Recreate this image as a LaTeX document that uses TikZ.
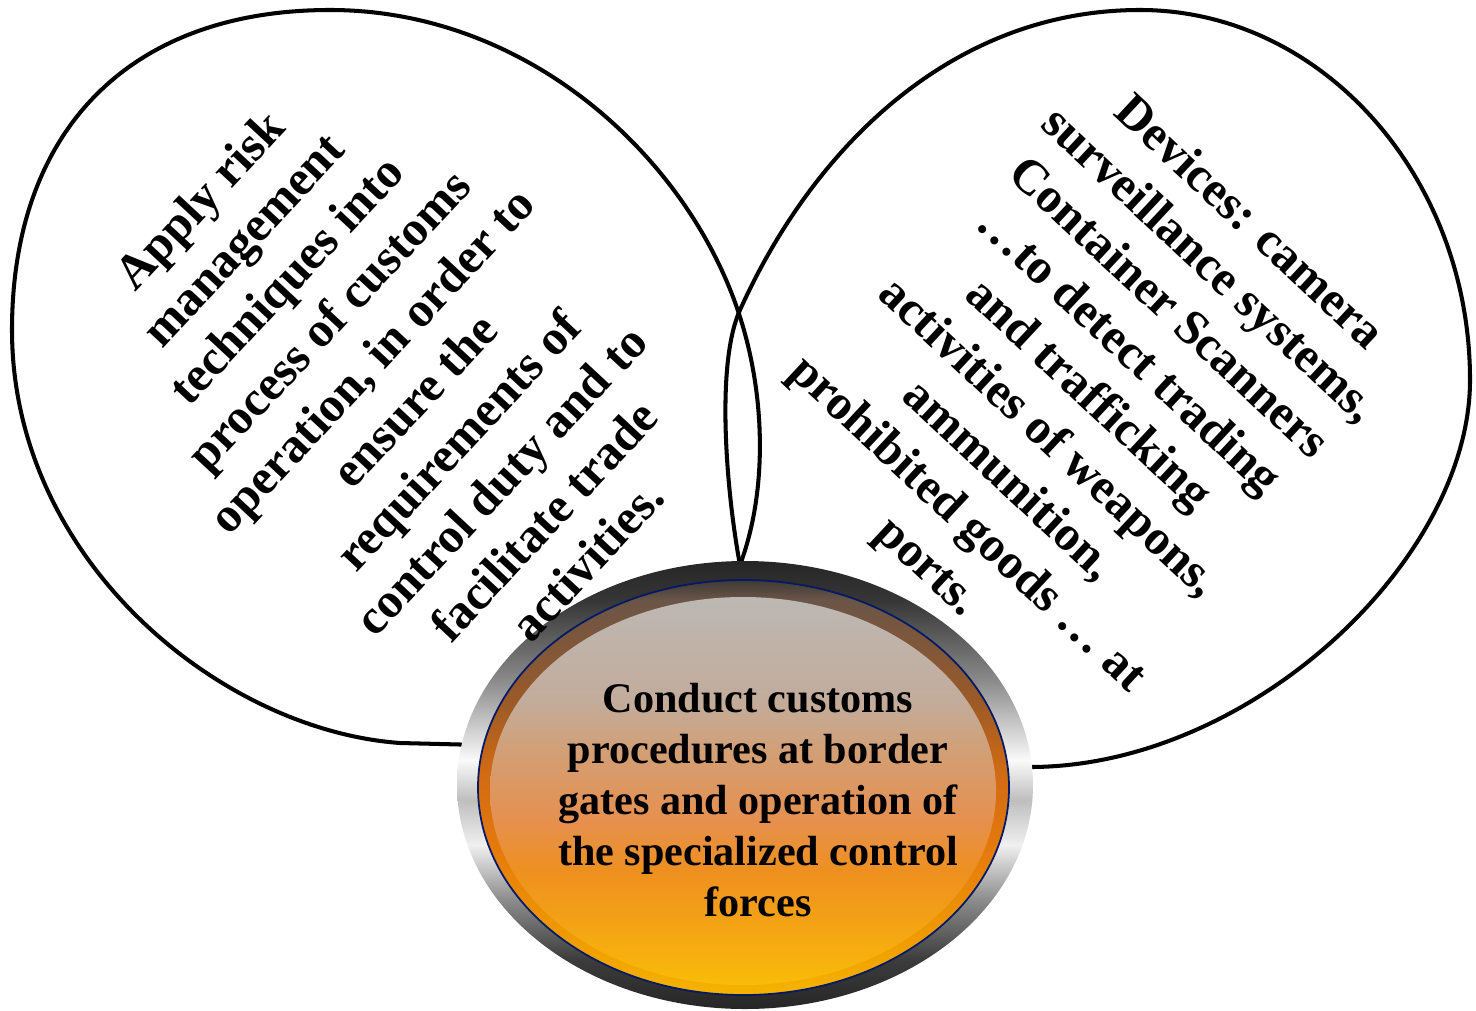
\documentclass[tikz,border=0pt]{standalone}
\usepackage{fontspec}
\setmainfont{Liberation Serif}
% rim colours
\definecolor{rimA}{HTML}{262626}
\definecolor{rimB}{HTML}{3C3C3C}
\definecolor{rimC}{HTML}{8C8C8C}
\definecolor{rimD}{HTML}{F0F0F0}
\definecolor{rimE}{HTML}{BEBEBE}
\definecolor{rimF}{HTML}{FAFAFA}
\definecolor{rimG}{HTML}{8A8A8A}
\definecolor{rimH}{HTML}{363636}
% core colours
\definecolor{coreA}{HTML}{F5B400}
\definecolor{coreB}{HTML}{F0A000}
\definecolor{coreC}{HTML}{E57A0C}
\definecolor{coreD}{HTML}{D06A14}
\definecolor{coreE}{HTML}{9A5A28}
\definecolor{coreF}{HTML}{6A5548}
\definecolor{coreG}{HTML}{3F3A36}
% highlight colours
\definecolor{hlA}{HTML}{F9BC08}
\definecolor{hlB}{HTML}{F4A514}
\definecolor{hlC}{HTML}{EE9020}
\definecolor{hlD}{HTML}{E69050}
\definecolor{hlE}{HTML}{D59D70}
\definecolor{hlF}{HTML}{C2AC9C}
\definecolor{hlG}{HTML}{BDB8B3}
\definecolor{navyline}{HTML}{001A66}
\pgfdeclareverticalshading{rimshade}{100bp}{color(0bp)=(rimA); color(25bp)=(rimA);
  color(30.5bp)=(rimB); color(37.2bp)=(rimC); color(43.3bp)=(rimD); color(48.3bp)=(rimE);
  color(52.8bp)=(rimF); color(61.7bp)=(rimG); color(70.6bp)=(rimH); color(75bp)=(rimA);
  color(100bp)=(rimA)}
\pgfdeclareverticalshading{coreshade}{100bp}{color(0bp)=(coreA); color(25bp)=(coreA);
  color(30.4bp)=(coreB); color(42.5bp)=(coreC); color(52.1bp)=(coreD); color(60.5bp)=(coreE);
  color(72.6bp)=(coreF); color(75bp)=(coreG); color(100bp)=(coreG)}
\pgfdeclareverticalshading{glowshade}{100bp}{color(0bp)=(hlA); color(25bp)=(hlA);
  color(32.1bp)=(hlB); color(39.8bp)=(hlC); color(46.3bp)=(hlD); color(54bp)=(hlE);
  color(61.7bp)=(hlF); color(75bp)=(hlG); color(100bp)=(hlG)}
\begin{document}
\begin{tikzpicture}[x=0.02cm,y=-0.02cm,
    drop/.style={draw=black,line width=2.3pt,line join=round},
    bigtext/.style={align=center,font=\fontsize{28}{33.5}\selectfont\bfseries}]
        \useasboundingbox (0,0) rectangle (1476,1010);
        % left drop
        \draw[drop] (480,745) -- (400,743)
          .. controls (220,730) and (12,560) .. (12,330)
          .. controls (12,130) and (130,10) .. (330,10)
          .. controls (530,10) and (690,160) .. (740,317)
          .. controls (765,395) and (768,490) .. (740,565);
        % right drop
        \draw[drop] (740,565)
          .. controls (727,496) and (715,365) .. (740,310)
          .. controls (812,150) and (950,10) .. (1140,10)
          .. controls (1322,10) and (1470,177) .. (1470,380)
          .. controls (1470,560) and (1250,767) .. (1030,767)
          -- (990,768);
        % centre bubble
        \shade[shading=rimshade] (745,785) ellipse [x radius=288,y radius=224];
        \shade[shading=coreshade,draw=navyline,line width=1pt] (743.5,787.5) ellipse [x radius=265.5,y radius=207.5];
        \shade[shading=glowshade] (743,791) ellipse [x radius=253,y radius=194];
        % texts
        \node[align=center,font=\fontsize{24}{29}\selectfont\bfseries] (customs) at (758,800)
          {Conduct customs\\procedures at border\\gates and operation of\\the specialized control\\forces};
        \node[bigtext,rotate=47] (risk) at (393,380)
          {Apply risk\\management\\techniques into\\process of customs\\operation, in order to\\ensure the\\requirements of\\control duty and to\\facilitate trade\\activities.};
        \node[bigtext,rotate=-43] (devices) at (1087,396)
          {Devices: camera\\surveillance systems,\\Container Scanners\\…to detect trading\\and trafficking\\activities of weapons,\\ammunition,\\prohibited goods … at\\ports.};
\end{tikzpicture}
\end{document}
